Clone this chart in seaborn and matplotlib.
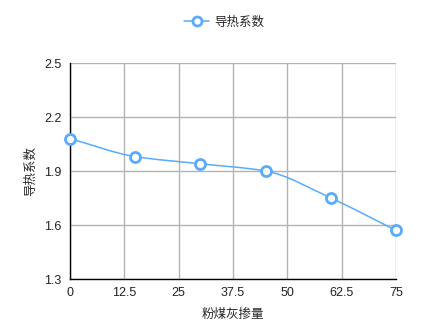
import numpy as np
import pandas as pd
import matplotlib
matplotlib.use("Agg")
import matplotlib.pyplot as plt
import seaborn as sns
from matplotlib.path import Path
from matplotlib.patches import PathPatch
from matplotlib.lines import Line2D

x_vals = [0, 15, 30, 45, 60, 75]
y_vals = [2.08, 1.98, 1.94, 1.90, 1.75, 1.57]
x_ticks = [0, 12.5, 25, 37.5, 50, 62.5, 75]
y_ticks = [1.3, 1.6, 1.9, 2.2, 2.5]
series_name = "导热系数"
x_label = "粉煤灰掺量"
y_label = "导热系数"

sns.set_theme(style="white")
plt.rcParams['font.family'] = ['Liberation Sans', 'Noto Sans CJK SC', 'DejaVu Sans']
cjk = ['Noto Sans CJK SC', 'DejaVu Sans']

color = "#5aabfb"
df = pd.DataFrame({"x": x_vals, "y": y_vals})

fig = plt.figure(figsize=(4.48, 3.29), dpi=100)
ax = fig.add_axes([70/448, 1-279/329, 326/448, 216/329])

# smooth curve via cubic Bezier segments (monotone tangents)
xs = np.array(x_vals, float); ys = np.array(y_vals, float)
n = len(xs)
d = np.diff(ys) / np.diff(xs)
m = np.zeros(n)
m[0] = d[0]; m[-1] = d[-1]
for i in range(1, n-1):
    if d[i-1]*d[i] <= 0:
        m[i] = 0
    else:
        m[i] = 2/(1/d[i-1] + 1/d[i])
verts = [(xs[0], ys[0])]
codes = [Path.MOVETO]
for i in range(n-1):
    h = xs[i+1]-xs[i]
    verts += [(xs[i]+h/3, ys[i]+m[i]*h/3), (xs[i+1]-h/3, ys[i+1]-m[i+1]*h/3), (xs[i+1], ys[i+1])]
    codes += [Path.CURVE4]*3
ax.add_patch(PathPatch(Path(verts, codes), facecolor='none', edgecolor=color, lw=1.1, zorder=3))

sns.scatterplot(data=df, x="x", y="y", ax=ax, s=52, facecolor="white",
                edgecolor=color, linewidth=2.0, zorder=4, legend=False)

ax.set_xlim(0, 75)
ax.set_ylim(1.3, 2.5)
ax.set_xticks(x_ticks)
ax.set_xticklabels([("%g" % t) for t in x_ticks])
ax.set_yticks(y_ticks)
ax.set_yticklabels([("%.1f" % t) for t in y_ticks])
ax.grid(True, color="#b3b3b3", lw=1)
ax.set_axisbelow(True)
for s in ["top", "right"]:
    ax.spines[s].set_visible(False)
for s in ["left", "bottom"]:
    ax.spines[s].set_color("black")
    ax.spines[s].set_linewidth(1)
ax.tick_params(axis='both', length=0, labelsize=9, colors="#222222", pad=6)
ax.set_xlabel(x_label, fontsize=9, family=cjk, labelpad=6)
ax.set_ylabel(y_label, fontsize=9, family=cjk, labelpad=5)
for c in ax.collections:
    c.set_clip_on(False)

handle = Line2D([], [], color=color, lw=1.1, marker='o', markersize=6.5,
                markerfacecolor='white', markeredgecolor=color, markeredgewidth=2.0)
fig.legend([handle], [series_name], loc='center', bbox_to_anchor=(0.5, 1-22/329),
           frameon=False, prop={'family': cjk, 'size': 9}, handlelength=2.0, handletextpad=0.4)

fig.savefig("out.png", dpi=100)
